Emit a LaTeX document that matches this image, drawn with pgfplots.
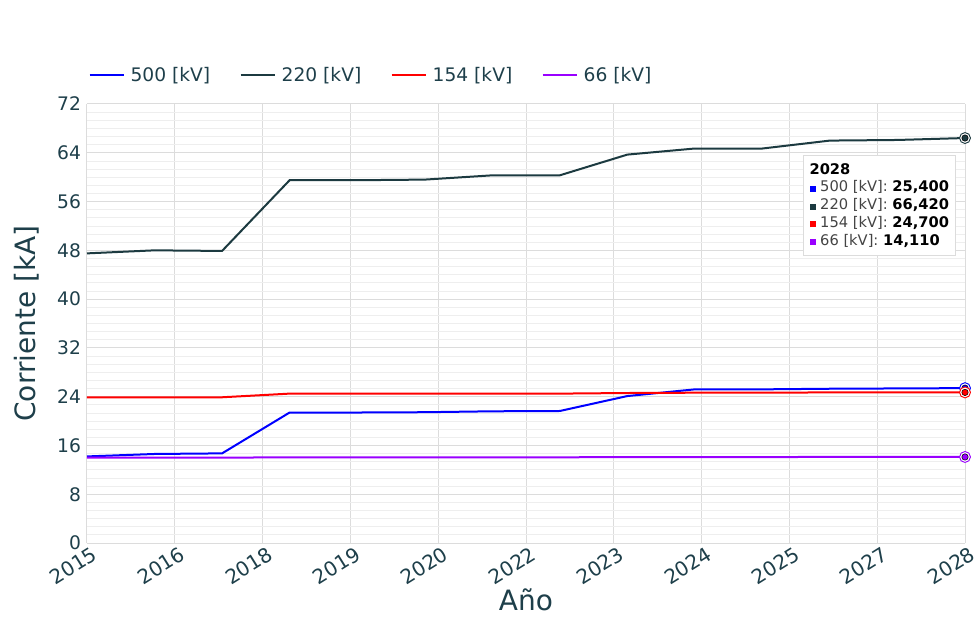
\documentclass[border=0pt]{standalone}
\usepackage{fontspec}
\setmainfont{DejaVu Sans}
\usepackage{pgfplots}
\pgfplotsset{compat=1.18}
\definecolor{txt}{HTML}{1E3F4A}
\definecolor{c500}{HTML}{0000FF}
\definecolor{c220}{HTML}{1C3A40}
\definecolor{c154}{HTML}{FF0000}
\definecolor{c66}{HTML}{9900FF}
\definecolor{majgrid}{HTML}{DCDCDC}
\definecolor{mingrid}{HTML}{EEEEEE}
\definecolor{zline}{HTML}{A8A8A8}
\definecolor{tiptxt}{HTML}{444444}

\pgfplotstableread{
year v500 v220 v154 v66
2015 14.2 47.5 23.9 14.00
2016 14.6 48.0 23.9 14.00
2017 14.7 47.9 23.9 14.00
2018 21.4 59.5 24.5 14.05
2019 21.4 59.5 24.5 14.05
2020 21.45 59.6 24.5 14.05
2021 21.6 60.3 24.5 14.05
2022 21.65 60.3 24.5 14.05
2023 24.1 63.7 24.6 14.10
2024 25.2 64.7 24.65 14.10
2025 25.2 64.7 24.65 14.10
2026 25.3 66.0 24.7 14.11
2027 25.35 66.1 24.7 14.11
2028 25.4 66.42 24.7 14.11
}\datatable

\begin{document}
\begin{tikzpicture}
\path[use as bounding box] (-65.25pt,-56.25pt) rectangle (665.25pt,407.25pt);
\begin{axis}[
  at={(0pt,0pt)}, anchor=south west,
  scale only axis, width=658.5pt, height=329.25pt,
  xmin=2015, xmax=2028, ymin=0, ymax=72,
  clip=false,
  xtick={2015,2016.3,2017.6,2018.9,2020.2,2021.5,2022.8,2024.1,2025.4,2026.7,2028},
  xticklabels={2015,2016,2018,2019,2020,2022,2023,2024,2025,2027,2028},
  ytick={0,8,...,72},
  minor y tick num=5,
  xmajorgrids, ymajorgrids, yminorgrids,
  major grid style={draw=majgrid, line width=0.75pt},
  minor grid style={draw=mingrid, line width=0.6pt},
  extra y ticks={0},
  extra y tick labels={},
  extra y tick style={grid style={draw=zline, line width=1.5pt}},
  axis line style={draw=none},
  tick style={draw=none},
  ticklabel style={font=\fontsize{14}{16}\selectfont, text=txt},
  /pgf/number format/assume math mode=true,
  xticklabel style={font=\fontsize{15}{17}\selectfont, rotate=32, anchor=north east, inner sep=1pt, xshift=2.5pt, yshift=-2pt},
  yticklabel style={anchor=east, xshift=-1pt},
  ylabel={Corriente [kA]},
  xlabel={Año},
  label style={font=\fontsize{21}{25}\selectfont, text=txt},
  ylabel style={at={(axis description cs:-0.069,0.5)}, anchor=center},
  xlabel style={at={(axis description cs:0.5,-0.13)}, anchor=center},
  legend columns=4,
  legend style={at={(0,1)}, anchor=west, yshift=21.75pt, xshift=-2pt,
    draw=none, fill=none, font=\fontsize{14}{16}\selectfont, text=txt,
    /tikz/every even column/.append style={column sep=20pt},
    /tikz/every odd column/.append style={column sep=2pt}},
  legend image code/.code={\draw[#1, line width=1.5pt] (0pt,0pt) -- (26pt,0pt);},
]
\addplot[c500, line width=1.5pt] table[x=year, y=v500] {\datatable};
\addlegendentry{500 [kV]}
\addplot[c220, line width=1.5pt] table[x=year, y=v220] {\datatable};
\addlegendentry{220 [kV]}
\addplot[c154, line width=1.5pt] table[x=year, y=v154] {\datatable};
\addlegendentry{154 [kV]}
\addplot[c66, line width=1.5pt] table[x=year, y=v66] {\datatable};
\addlegendentry{66 [kV]}

% hover markers at the last point
\addplot[forget plot, only marks, mark=*, mark size=4.1pt, mark options={fill=white, draw=c500, line width=0.7pt}] coordinates {(2028,25.4)};
\addplot[forget plot, only marks, mark=*, mark size=2.4pt, mark options={fill=c500, draw=none}] coordinates {(2028,25.4)};
\addplot[forget plot, only marks, mark=*, mark size=4.1pt, mark options={fill=white, draw=c154, line width=0.7pt}] coordinates {(2028,24.7)};
\addplot[forget plot, only marks, mark=*, mark size=2.4pt, mark options={fill=c154, draw=none}] coordinates {(2028,24.7)};
\addplot[forget plot, only marks, mark=*, mark size=4.1pt, mark options={fill=white, draw=c66, line width=0.7pt}] coordinates {(2028,14.11)};
\addplot[forget plot, only marks, mark=*, mark size=2.4pt, mark options={fill=c66, draw=none}] coordinates {(2028,14.11)};
\addplot[forget plot, only marks, mark=*, mark size=4.1pt, mark options={fill=white, draw=c220, line width=0.7pt}] coordinates {(2028,66.42)};
\addplot[forget plot, only marks, mark=*, mark size=2.4pt, mark options={fill=c220, draw=none}] coordinates {(2028,66.42)};

\node[draw=majgrid, fill=white, anchor=north west, align=left, inner xsep=4.5pt, inner ysep=6pt,
  minimum width=114pt, text=tiptxt, font=\fontsize{11}{13.3}\selectfont]
  at (rel axis cs:0.8155,0.8838)
  {\textcolor{black}{\bfseries 2028}\\
   \textcolor{c500}{\rule{4.5pt}{4.5pt}} 500 [kV]: \textcolor{black}{\bfseries 25,400}\\
   \textcolor{c220}{\rule{4.5pt}{4.5pt}} 220 [kV]: \textcolor{black}{\bfseries 66,420}\\
   \textcolor{c154}{\rule{4.5pt}{4.5pt}} 154 [kV]: \textcolor{black}{\bfseries 24,700}\\
   \textcolor{c66}{\rule{4.5pt}{4.5pt}} 66 [kV]: \textcolor{black}{\bfseries 14,110}};
\end{axis}
\end{tikzpicture}
\end{document}
